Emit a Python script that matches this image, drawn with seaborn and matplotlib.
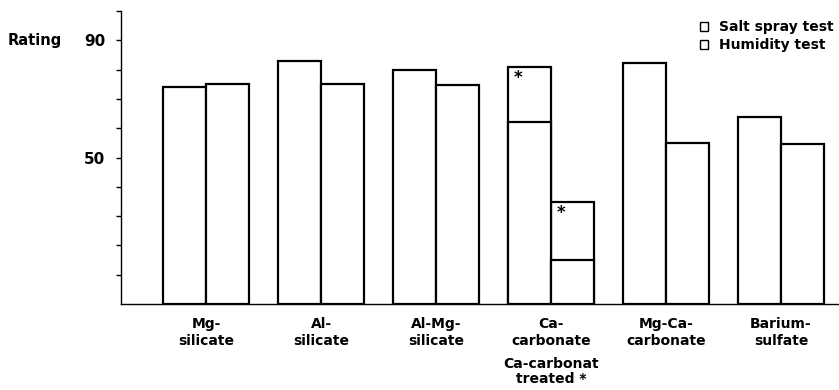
import numpy as np
import pandas as pd
import matplotlib
matplotlib.use("Agg")
import matplotlib.pyplot as plt
import matplotlib.transforms as mtransforms
from matplotlib.patches import Patch
import seaborn as sns

# ---------------- data ----------------
categories = ["Mg-\nsilicate", "Al-\nsilicate", "Al-Mg-\nsilicate",
              "Ca-\ncarbonate", "Mg-Ca-\ncarbonate", "Barium-\nsulfate"]
series = ["Salt spray test", "Humidity test"]
salt_spray = [74.1, 82.9, 79.7, 62.2, 82.1, 63.9]
humidity = [75.2, 75.0, 74.9, 15.0, 54.8, 54.6]
treated_category = "Ca-\ncarbonate"
treated_salt_spray = 80.9
treated_humidity = 34.7
treated_label = "Ca-carbonat\ntreated *"
y_ticks = [10, 20, 30, 40, 50, 60, 70, 80, 90, 100]
y_tick_labels = ["", "", "", "", "50", "", "", "", "90", ""]

# ---------------- tables ----------------
rows = []
for c, s, h in zip(categories, salt_spray, humidity):
    if c == treated_category:
        s, h = treated_salt_spray, treated_humidity
    rows.append((c, series[0], s))
    rows.append((c, series[1], h))
df_outer = pd.DataFrame(rows, columns=["material", "test", "rating"])

rows = []
for c, s, h in zip(categories, salt_spray, humidity):
    if c == treated_category:
        rows.append((c, series[0], s))
        rows.append((c, series[1], h))
df_inner = pd.DataFrame(rows, columns=["material", "test", "rating"])

# ---------------- figure ----------------
sns.set_style("white")
plt.rcParams["font.family"] = ["DejaVu Sans"]
plt.rcParams["font.weight"] = "bold"
plt.rcParams["text.color"] = "black"
plt.rcParams["axes.labelcolor"] = "black"
plt.rcParams["xtick.color"] = "black"
plt.rcParams["ytick.color"] = "black"

W, H = 839, 390
fig = plt.figure(figsize=(W / 100, H / 100), dpi=100)
ax = fig.add_axes([121 / W, 86 / H, 718 / W, 293 / H])

pal = {series[0]: "white", series[1]: "white"}
common = dict(x="material", y="rating", hue="test", order=categories,
              hue_order=series, palette=pal, edgecolor="black",
              linewidth=1.6, width=0.75, errorbar=None, legend=False,
              saturation=1, ax=ax)
sns.barplot(data=df_outer, **common)
sns.barplot(data=df_inner, **common)

ax.set_xlim(-0.739, 5.504)
ax.set_ylim(0, 100)
ax.set_yticks(y_ticks)
ax.set_yticklabels(y_tick_labels, fontsize=11, fontweight="bold",
                   color="black")
ax.tick_params(axis="y", direction="out", length=3.5, width=1.0,
               pad=8, left=True, colors="black")
ax.tick_params(axis="x", length=0, pad=9.5, labelsize=10,
               labelcolor="black")
for lab in ax.get_xticklabels():
    lab.set_fontweight("bold")
    lab.set_linespacing(1.3)
ax.set_xlabel("")
ax.set_ylabel("")
for side in ["top", "right"]:
    ax.spines[side].set_visible(False)
for side in ["left", "bottom"]:
    ax.spines[side].set_color("black")
    ax.spines[side].set_linewidth(1.0)

# "Rating" label next to the 90 tick
trans = mtransforms.blended_transform_factory(fig.transFigure, ax.transData)
ax.text(8 / W, 90, "Rating", transform=trans, ha="left", va="center",
        fontsize=10.5, fontweight="bold", color="black")

# Treated label under Ca-carbonate
idx = categories.index(treated_category)
ax.text(idx, -0.18, treated_label, transform=ax.get_xaxis_transform(),
        ha="center", va="top", fontsize=10, fontweight="bold",
        linespacing=1.1, color="black")

# asterisks in treated parts
n = len(categories)
for k, val in enumerate([treated_salt_spray, treated_humidity]):
    bar = ax.patches[k * n + idx]
    ax.annotate("*", xy=(bar.get_x(), val), xytext=(7.5, -8),
                textcoords="offset points", ha="center", va="center",
                fontsize=12, fontweight="bold", color="black")

# legend
handles = [Patch(facecolor="white", edgecolor="black", linewidth=1.0,
                 label=s) for s in series]
leg = fig.legend(handles=handles, loc="upper left",
                 bbox_to_anchor=(700 / W, 1 - 20 / H), frameon=False,
                 prop={"weight": "bold", "size": 10},
                 handlelength=0.6, handleheight=0.6, handletextpad=0.8,
                 labelspacing=0.3, borderpad=0, borderaxespad=0)
for t in leg.get_texts():
    t.set_color("black")

fig.savefig("out.png", dpi=100, facecolor="white")
